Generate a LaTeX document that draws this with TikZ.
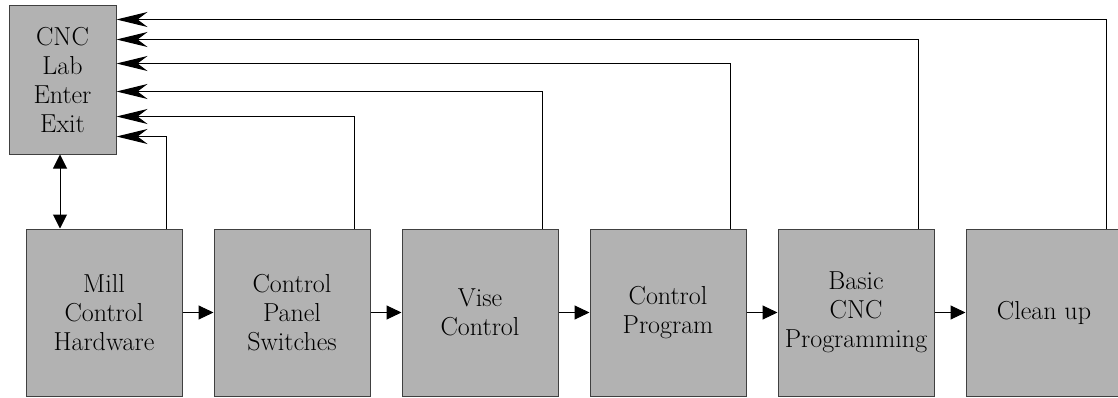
\documentclass[tikz,border=0pt]{standalone}
\usepackage{times}
\usetikzlibrary{arrows.meta, positioning, calc}

\begin{document}
\begin{tikzpicture}[
    x=1pt, y=1pt,
    node distance=31pt,
    block/.style={draw=black!75, fill=black!30, line width=1pt, inner sep=0pt,
      minimum width=156pt, minimum height=167pt, align=center,
      font=\rmfamily\fontsize{26}{29}\selectfont},
    arrow/.style={-{Triangle[length=15pt, width=14pt]}, line width=1pt},
    back/.style={-{Stealth[length=31pt, width=15pt, inset=10pt]}, line width=1pt}
  ]
  \useasboundingbox (0,0) rectangle (1118,397);

  \node[block, minimum width=107pt, minimum height=148pt] (cnc) at (62.5,317) {CNC\\Lab\\Enter\\Exit};

  \node[block] (mill) at (104,84.5) {Mill\\Control\\Hardware};
  \node[block, right=of mill] (panel) {Control\\Panel\\Switches};
  \node[block, right=of panel] (vise) {Vise\\Control};
  \node[block, right=of vise] (prog) {Control\\Program};
  \node[block, right=of prog] (basic) {Basic\\CNC\\Programming};
  \node[block, right=of basic] (clean) {Clean up};

  % steps in order
  \foreach \a/\b in {mill/panel, panel/vise, vise/prog, prog/basic, basic/clean}
    \draw[arrow] (\a) -- (\b);

  \draw[{Triangle[length=14pt, width=14pt]}-{Triangle[length=14pt, width=14pt]}, line width=1pt]
    ([xshift=-2.5pt]cnc.south) -- ([xshift=-2.5pt]cnc.south |- mill.north);

  % every step reports back to the lab
  \foreach \b/\dy in {mill/131, panel/111, vise/86, prog/58, basic/34, clean/14}
    \draw[back] ($(\b.north east)+(-16,0)$) |- ($(cnc.north east)+(0,-\dy)$);
\end{tikzpicture}
\end{document}
